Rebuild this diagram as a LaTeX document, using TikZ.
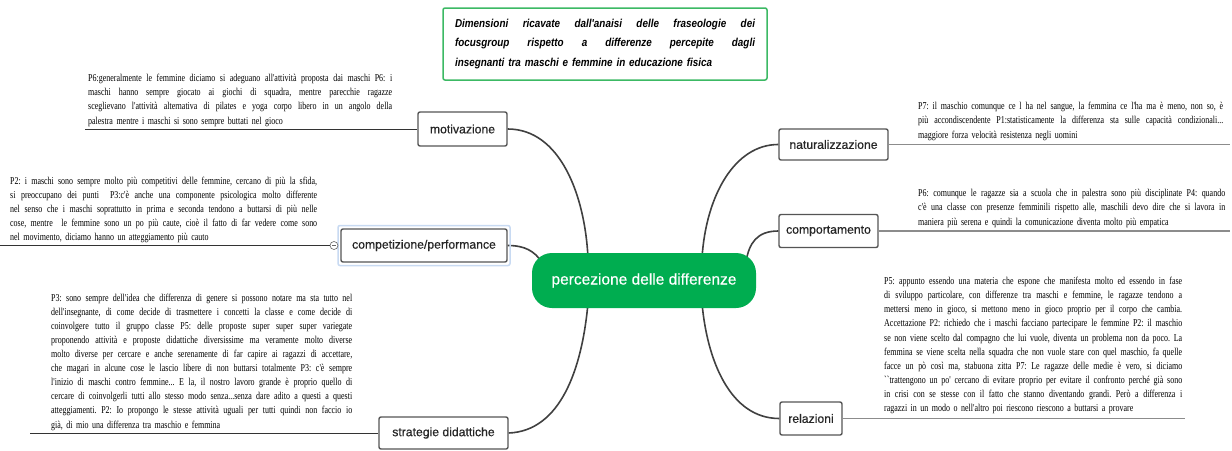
\documentclass[tikz,border=0pt]{standalone}
\usepackage{fontspec}
\setmainfont{Liberation Serif}
\setsansfont{Liberation Sans}
\newfontfamily\notefont[FakeStretch=0.76]{Liberation Serif}
\newfontfamily\titlefnt[FakeStretch=0.86]{Liberation Sans}
\newfontfamily\labelfont[FakeBold=0.6]{Liberation Sans}
\definecolor{cgreen}{RGB}{0,173,80}
\definecolor{tgreen}{RGB}{60,185,100}
\definecolor{boxline}{RGB}{85,85,85}
\definecolor{connc}{RGB}{64,64,64}
\definecolor{selblue}{RGB}{200,218,242}
\setlength\parindent{0pt}
\newlength\tw
\newcommand\J[1]{\leavevmode\hbox to\tw{\frenchspacing
  \spaceskip=\fontdimen2\font plus 1.5em minus 0.3\fontdimen2\font\relax
  \xspaceskip=\spaceskip #1}}
\newcommand\notesetup{\notefont\fontsize{10.5}{14.1}\selectfont\frenchspacing}
\newcommand\titlesetup{\titlefnt\bfseries\itshape\fontsize{11.5}{19.5}\selectfont\frenchspacing}
\newcommand\labelsetup{\labelfont\fontsize{12.2}{14}\selectfont}
\newcommand\centersetup{\labelfont\fontsize{15.5}{18}\selectfont}
\pgfdeclarelayer{bg}
\pgfsetlayers{bg,main}
\begin{document}
\begin{tikzpicture}[x=1pt,y=-1pt,
  topic/.style={draw=boxline, line width=1.4pt, fill=white, rounded corners=2pt, inner sep=0pt,
    font=\labelsetup, text=black!85},
  note/.style={inner sep=0pt, anchor=south west, align=left, font=\notesetup, text=black},
  link/.style={draw=connc, line width=1.6pt},
  uline/.style={draw=black!80, line width=0.8pt},
  ulineR/.style={draw=black!45, line width=1.4pt}]
\useasboundingbox (0,0) rectangle (1232,450);
\begin{pgfonlayer}{bg}
\fill[white] (0,0) rectangle (1232,450);
\end{pgfonlayer}

% title
\setlength\tw{300pt}
\node[draw=tgreen, line width=1.5pt, rounded corners=2pt, fill=white, text width=\tw, align=left,
  inner xsep=12pt, inner ysep=4pt, minimum height=72pt, font=\titlesetup] (title) at (605,44)
  {\J{Dimensioni ricavate dall'anaisi delle fraseologie dei}\\
   \J{focusgroup rispetto a differenze percepite dagli}\\
   insegnanti tra maschi e femmine in educazione fisica};

% central topic
\node[fill=cgreen, rounded corners=20pt, minimum width=224pt, minimum height=55pt, inner sep=0pt,
  text=white, font=\centersetup] (c) at (644,280.5) {percezione delle differenze};

% branches
\node[draw=selblue, line width=1.5pt, rounded corners=2pt, minimum width=172pt, minimum height=40pt, inner sep=0pt] (sel) at (424,245.5) {};
\node[topic, minimum width=89pt, minimum height=34pt] (mot) at (462.5,129) {motivazione};
\node[topic, minimum width=166pt, minimum height=33pt] (comp) at (424,245.5) {competizione/performance};
\node[topic, minimum width=129pt, minimum height=32pt] (strat) at (443.5,433) {strategie didattiche};
\node[topic, minimum width=109pt, minimum height=31pt] (nat) at (833.5,144.5) {naturalizzazione};
\node[topic, minimum width=99pt, minimum height=33pt] (cpt) at (828.5,231) {comportamento};
\node[topic, minimum width=62pt, minimum height=33pt] (rel) at (811,418.5) {relazioni};

\node[circle, draw=black!60, fill=white, minimum size=8pt, inner sep=0pt, line width=0.6pt] (tog) at (334,245.5) {};
\draw[black!60, line width=0.6pt] ([xshift=-2pt]tog.center) -- ([xshift=2pt]tog.center);

% connectors
\coordinate (cA) at (588,258);
\coordinate (cB) at (702,258);
\coordinate (cC) at (746,262);
\coordinate (cD) at (542,262);
\coordinate (cE) at (588,303);
\coordinate (cF) at (702,303);
\begin{pgfonlayer}{bg}
\draw[link] (mot.east) .. controls (560,129) and (585,195) .. (cA);
\draw[link] (nat.west) .. controls (735,144.5) and (706,195) .. (cB);
\draw[link] (cpt.west) .. controls (757,231) and (749,243) .. (cC);
\draw[link] (comp.east) .. controls (525,245.5) and (534,251) .. (cD);
\draw[link] (strat.east) .. controls (560,431) and (582,370) .. (cE);
\draw[link] (rel.west) .. controls (730,418.5) and (707,360) .. (cF);
\end{pgfonlayer}

% underlines
\coordinate (mL) at (85,129);
\coordinate (cL) at (0,245.5);
\coordinate (sL) at (30,433);
\coordinate (nR) at (1230,144.5);
\coordinate (kR) at (1230,231);
\coordinate (rR) at (1185,418.5);
\draw[uline] (mL) -- (mot.west);
\draw[uline] (cL) -- (tog.west);
\draw[uline] (sL) -- (strat.west);
\draw[ulineR] (nat.east) -- (nR);
\draw[ulineR] (cpt.east) -- (kR);
\draw[ulineR] (rel.east) -- (rR);

% notes
\setlength\tw{304pt}
\node[note, text width=\tw] (tmot) at (88,126.5)
 {\J{P6:generalmente le femmine diciamo si adeguano all'attività proposta dai maschi P6: i}\\
  \J{maschi hanno sempre giocato ai giochi di squadra, mentre parecchie ragazze}\\
  \J{sceglievano l'attività alternativa di pilates e yoga corpo libero in un angolo della}\\
  palestra mentre i maschi si sono sempre buttati nel gioco};

\setlength\tw{307pt}
\node[note, text width=\tw] (tcomp) at (10,243)
 {\J{P2: i maschi sono sempre molto più competitivi delle femmine, cercano di più la sfida,}\\
  \J{si preoccupano dei punti \ P3:c'è anche una componente psicologica molto differente}\\
  \J{nel senso che i maschi soprattutto in prima e seconda tendono a buttarsi di più nelle}\\
  \J{cose, mentre \ le femmine sono un po più caute, cioè il fatto di far vedere come sono}\\
  nel movimento, diciamo hanno un atteggiamento più cauto};

\setlength\tw{301pt}
\node[note, text width=\tw] (tstrat) at (51,430.5)
 {\J{P3: sono sempre dell'idea che differenza di genere si possono notare ma sta tutto nel}\\
  \J{dell'insegnante, di come decide di trasmettere i concetti la classe e come decide di}\\
  \J{coinvolgere tutto il gruppo classe P5: delle proposte super super super variegate}\\
  \J{proponendo attività e proposte didattiche diversissime ma veramente molto diverse}\\
  \J{molto diverse per cercare e anche serenamente di far capire ai ragazzi di accettare,}\\
  \J{che magari in alcune cose le lascio libere di non buttarsi totalmente P3: c'è sempre}\\
  \J{l'inizio di maschi contro femmine... E la, il nostro lavoro grande è proprio quello di}\\
  \J{cercare di coinvolgerli tutti allo stesso modo senza...senza dare adito a questi a questi}\\
  \J{atteggiamenti. P2: Io propongo le stesse attività uguali per tutti quindi non faccio io}\\
  già, di mio una differenza tra maschio e femmina};

\setlength\tw{305pt}
\node[note, text width=\tw] (tnat) at (918,140.5)
 {\J{P7: il maschio comunque ce l ha nel sangue, la femmina ce l'ha ma è meno, non so, è}\\
  \J{più accondiscendente P1:statisticamente la differenza sta sulle capacità condizionali...}\\
  maggiore forza velocità resistenza negli uomini};

\setlength\tw{307pt}
\node[note, text width=\tw] (tcpt) at (918,227.5)
 {\J{P6: comunque le ragazze sia a scuola che in palestra sono più disciplinate P4: quando}\\
  \J{c'è una classe con presenze femminili rispetto alle, maschili devo dire che si lavora in}\\
  maniera più serena e quindi la comunicazione diventa molto più empatica};

\setlength\tw{298pt}
\node[note, text width=\tw] (trel) at (884,414)
 {\J{P5: appunto essendo una materia che espone che manifesta molto ed essendo in fase}\\
  \J{di sviluppo particolare, con differenze tra maschi e femmine, le ragazze tendono a}\\
  \J{mettersi meno in gioco, si mettono meno in gioco proprio per il corpo che cambia.}\\
  \J{Accettazione P2: richiedo che i maschi facciano partecipare le femmine P2: il maschio}\\
  \J{se non viene scelto dal compagno che lui vuole, diventa un problema non da poco. La}\\
  \J{femmina se viene scelta nella squadra che non vuole stare con quel maschio, fa quelle}\\
  \J{facce un pò così ma, stabuona zitta P7: Le ragazze delle medie è vero, si diciamo}\\
  \J{``trattengono un po' cercano di evitare proprio per evitare il confronto perché già sono}\\
  \J{in crisi con se stesse con il fatto che stanno diventando grandi. Però a differenza i}\\
  ragazzi in un modo o nell'altro poi riescono riescono a buttarsi a provare};
\end{tikzpicture}
\end{document}
